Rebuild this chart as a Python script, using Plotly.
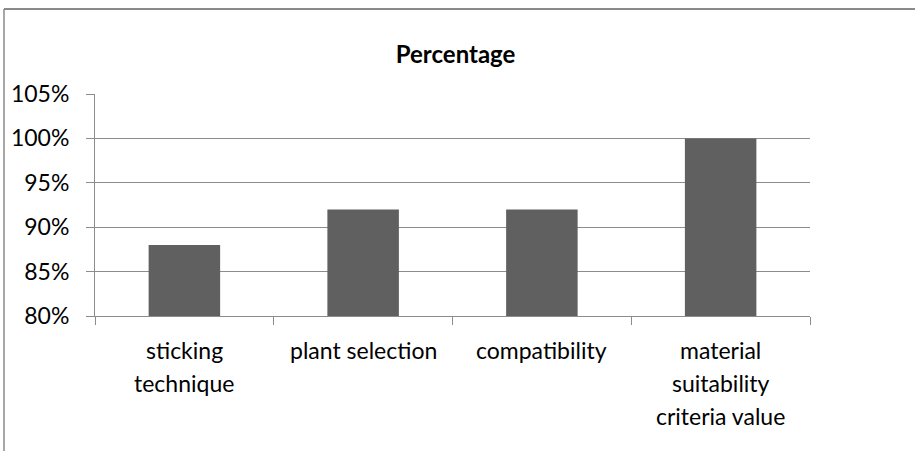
import plotly.graph_objects as go

# Category labels and their percentage values
categories = ["sticking technique", "plant selection", "compatibility",
              "material suitability criteria value"]
label_lines = [["sticking", "technique"], ["plant selection"], ["compatibility"],
               ["material", "suitability", "criteria value"]]
values = [0.88, 0.92, 0.92, 1.00]
y_ticks = [0.80, 0.85, 0.90, 0.95, 1.00, 1.05]

W, H = 915, 451
ml, mr, mt, mb = 95, 105, 94, 135
pw, ph = W - ml - mr, H - mt - mb

def px_x(p):
    return (p - ml) / pw

def px_y(p):
    return (H - mb - p) / ph

grid = "#8c8c8c"
font = "Lato"
fsize = 23

fig = go.Figure(go.Bar(
    x=categories, y=values, marker=dict(color="#606060", line=dict(width=0)),
    width=0.4,
))

# Category labels, one line at a time so the line spacing can be set
annotations = []
for cat, lines in zip(categories, label_lines):
    for i, line in enumerate(lines):
        annotations.append(dict(
            x=cat, y=0.80, xref="x", yref="y", text=line, showarrow=False,
            xanchor="center", yanchor="middle", yshift=-34 - 33 * i,
            font=dict(family=font, size=fsize, color="black"),
        ))

fig.update_layout(
    width=W, height=H,
    margin=dict(l=ml, r=mr, t=mt, b=mb),
    paper_bgcolor="white", plot_bgcolor="white",
    showlegend=False,
    title=dict(text="<b>Percentage</b>", x=px_x(451), xanchor="center",
               y=1 - 55 / H, yanchor="middle",
               font=dict(family=font, size=24, color="black")),
    font=dict(family=font, size=fsize, color="black"),
    annotations=annotations,
    shapes=[
        dict(type="line", xref="paper", yref="paper",
             x0=px_x(4), x1=px_x(W + 5), y0=px_y(9), y1=px_y(9),
             line=dict(color="#8a8a8a", width=2)),
        dict(type="line", xref="paper", yref="paper",
             x0=px_x(4), x1=px_x(4), y0=px_y(9), y1=px_y(H + 5),
             line=dict(color="#8a8a8a", width=1.5)),
    ],
)

fig.update_yaxes(
    range=[0.80, 1.05], tickvals=y_ticks, tickformat=".0%",
    showgrid=True, gridcolor=grid, gridwidth=1,
    showline=True, linecolor=grid, linewidth=1,
    ticks="outside", ticklen=8, tickcolor=grid,
    zeroline=False, tickfont=dict(family=font, size=fsize, color="black"),
    ticklabelstandoff=12,
)
fig.update_xaxes(
    showline=True, linecolor=grid, linewidth=1,
    ticks="outside", ticklen=8, tickcolor=grid, tickson="boundaries",
    showticklabels=False, showgrid=False,
)

fig.write_html("out.html")
